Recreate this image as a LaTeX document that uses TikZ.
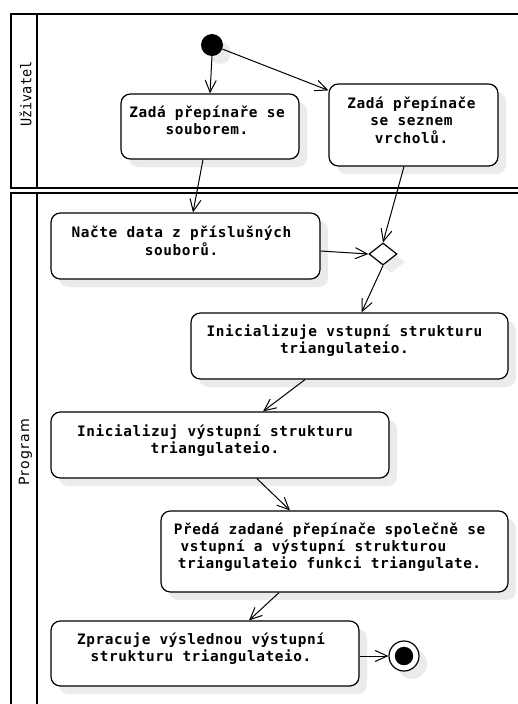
\documentclass[tikz,border=0pt]{standalone}
\usepackage{fontspec}
\newfontfamily\actfont{DejaVu Sans Mono}[LetterSpace=4]
\newfontfamily\lanemono{DejaVu Sans Mono}
\newfontfamily\lanesans{DejaVu Sans}[LetterSpace=9]
\usetikzlibrary{arrows.meta,shapes.geometric,shadows,calc}

\newcommand\actlines[1]{\begin{tabular}[t]{@{}c@{}}#1\end{tabular}}

\tikzset{
  lane/.style={line width=1.5pt},
  shadowed/.style={drop shadow={shadow xshift=6pt,shadow yshift=-6pt,fill=black!8,opacity=1}},
  act/.style={draw, line width=0.9pt, rounded corners=7pt, fill=white, inner sep=0pt, shadowed},
  acttext/.style={inner sep=0pt, anchor=base, font=\actfont\bfseries\fontsize{10.8pt}{12.4pt}\selectfont},
  flow/.style={line width=0.75pt, -{Straight Barb[length=9pt,width=8.25pt]}},
  lanelabel/.style={rotate=90, inner sep=0pt},
}

\begin{document}
\begin{tikzpicture}[x=0.75pt,y=-0.75pt]
\useasboundingbox (0,0) rectangle (518,704);

% swimlane frames
\draw[lane] (530,14) -- (11,14) -- (11,188) -- (530,188);
\draw[lane] (37,14) -- (37,188);
\draw[lane] (530,193) -- (11,193) -- (11,720);
\draw[lane] (37,193) -- (37,720);
\node[lanelabel, font=\lanemono\fontsize{11pt}{12pt}\selectfont] (laneU) at (25.5,94) {\scalebox{0.92}[1]{Uživatel}};
\node[lanelabel, font=\lanesans\fontsize{10.6pt}{12pt}\selectfont] (laneP) at (25.5,452) {Program};

% initial and final states, decision
\node[circle, fill=black, minimum size=16.5pt, inner sep=0pt, shadowed] (start) at (212,45) {};
\node[diamond, draw, fill=white, line width=0.9pt, minimum width=21pt, minimum height=16.5pt, inner sep=0pt, shadowed] (dia) at (383,254) {};
\node[circle, draw, fill=white, line width=0.9pt, minimum size=22.5pt, inner sep=0pt, shadowed,
      path picture={\fill[black] (path picture bounding box.center) circle (6.9pt);}] (end) at (404,656) {};

% activities
\node[act, minimum width=133.5pt, minimum height=48.75pt] (A) at (210,126.5) {};
\node[acttext] (At) at ($(A.north)+(-3,24.5)$) {\actlines{Zadá přepínaře se\\souborem.}};

\node[act, minimum width=126.75pt, minimum height=61.5pt] (B) at (413.5,125) {};
\node[acttext] (Bt) at ($(B.north)+(-2,25.5)$) {\actlines{Zadá přepínače\\se seznem\\vrcholů.}};

\node[act, minimum width=201.75pt, minimum height=49.5pt] (C) at (185.5,246) {};
\node[acttext] (Ct) at ($(C.north)+(-4,25.5)$) {\actlines{Načte data z příslušných\\souborů.}};

\node[act, minimum width=237.75pt, minimum height=49.5pt] (D) at (349.5,346) {};
\node[acttext] (Dt) at ($(D.north)+(-5,24)$) {\actlines{Inicializuje vstupní strukturu\\triangulateio.}};

\node[act, minimum width=253.5pt, minimum height=49.5pt] (E) at (220,445) {};
\node[acttext] (Et) at ($(E.north)+(-5,25.5)$) {\actlines{Inicializuj výstupní strukturu\\triangulateio.}};

\node[act, minimum width=260.25pt, minimum height=60.75pt] (F) at (334.5,551.5) {};
\node[acttext] (Ft) at ($(F.north)+(-5,24.5)$) {\actlines{Předá zadané přepínače společně se\\vstupní a výstupní strukturou\hspace*{24pt}\\triangulateio funkci triangulate.}};

\node[act, minimum width=231pt, minimum height=48.75pt] (G) at (205,653.5) {};
\node[acttext] (Gt) at ($(G.north)+(-4,24.5)$) {\actlines{Zpracuje výslednou výstupní\\strukturu triangulateio.}};

% control flow
\draw[flow] (start.south) -- (A.north);
\draw[flow] (start) -- ($(B.north west)+(0,7)$);
\draw[flow] ($(A.south)+(-7,0)$) -- ($(C.north)+(7.5,0)$);
\draw[flow] ($(B.south)+(-9.5,0)$) -- (dia.north);
\draw[flow] ($(C.east)+(0,5)$) -- (dia.west);
\draw[flow] (dia.south) -- ($(D.north)+(12,0)$);
\draw[flow] ($(D.south)+(-44.5,0)$) -- ($(E.north)+(43,0)$);
\draw[flow] ($(E.south)+(37,0)$) -- ($(F.north)+(-44.5,0)$);
\draw[flow] ($(F.south)+(-55.5,0)$) -- ($(G.north)+(44,0)$);
\draw[flow] (G.east |- end.west) -- (end.west);
\end{tikzpicture}
\end{document}
